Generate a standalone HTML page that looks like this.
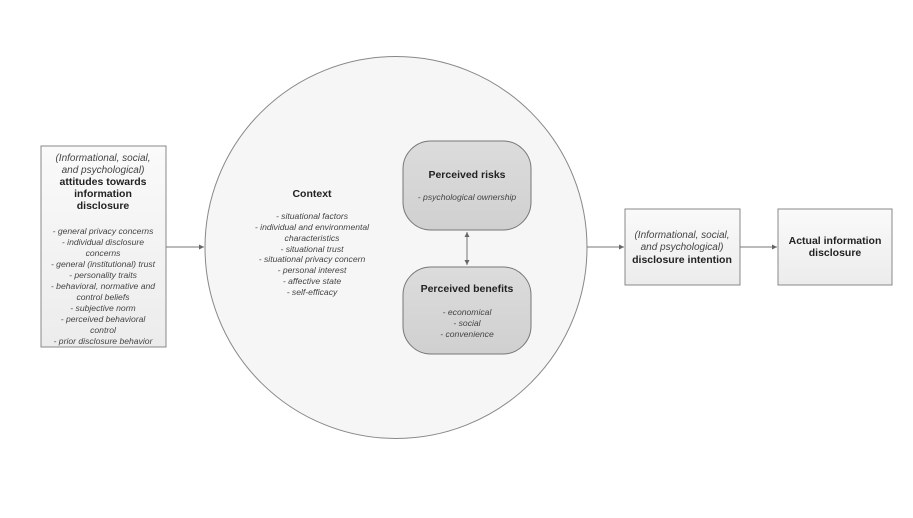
<!DOCTYPE html>
<html><head><meta charset="utf-8"><style>
body{margin:0;background:#fff;}
svg text{font-family:"Liberation Sans",sans-serif;fill:#222;}
.i{font-style:italic;font-size:8.6px;fill:#444;}
.b{font-weight:bold;font-size:10.5px;}
</style></head><body>
<svg width="913" height="513" viewBox="0 0 913 513" xmlns="http://www.w3.org/2000/svg">
<defs>
<linearGradient id="g" x1="0" y1="0" x2="0" y2="1"><stop offset="0" stop-color="#fafafa"/><stop offset="1" stop-color="#ececec"/></linearGradient>
<linearGradient id="g2" x1="0" y1="0" x2="0" y2="1"><stop offset="0" stop-color="#dcdcdc"/><stop offset="1" stop-color="#d0d0d0"/></linearGradient>
<marker id="a" markerWidth="6" markerHeight="6" refX="5" refY="3" orient="auto"><path d="M0,0.5 L5,3 L0,5.5z" fill="#666"/></marker>
<marker id="as" markerWidth="6" markerHeight="6" refX="1" refY="3" orient="auto"><path d="M6,0.5 L1,3 L6,5.5z" fill="#666"/></marker>
</defs>
<circle cx="396" cy="247.5" r="191" fill="#f6f6f6" stroke="#888" stroke-width="1"/>
<rect x="41" y="146" width="125" height="201" fill="url(#g)" stroke="#888"/>
<rect x="403" y="141" width="128" height="89" rx="28" fill="url(#g2)" stroke="#777"/>
<rect x="403" y="267" width="128" height="87" rx="28" fill="url(#g2)" stroke="#777"/>
<rect x="625" y="209" width="115" height="76" fill="url(#g)" stroke="#888"/>
<rect x="778" y="209" width="114" height="76" fill="url(#g)" stroke="#888"/>
<g stroke="#777" stroke-width="1" fill="none">
<line x1="166" y1="247" x2="204" y2="247" marker-end="url(#a)"/>
<line x1="587" y1="247" x2="624" y2="247" marker-end="url(#a)"/>
<line x1="740" y1="247" x2="777" y2="247" marker-end="url(#a)"/>
<line x1="467" y1="232" x2="467" y2="265" marker-end="url(#a)" marker-start="url(#as)"/>
</g>
<g text-anchor="middle">
<text x="103" y="161" class="i" style="font-size:10px">(Informational, social,</text>
<text x="103" y="173" class="i" style="font-size:10px">and psychological)</text>
<text x="103" y="185" class="b">attitudes towards</text>
<text x="103" y="197" class="b">information</text>
<text x="103" y="209" class="b">disclosure</text>
<text x="103" y="234" class="i">- general privacy concerns</text>
<text x="103" y="245" class="i">- individual disclosure</text>
<text x="103" y="256" class="i">concerns</text>
<text x="103" y="267" class="i">- general (institutional) trust</text>
<text x="103" y="278" class="i">- personality traits</text>
<text x="103" y="289" class="i">- behavioral, normative and</text>
<text x="103" y="300" class="i">control beliefs</text>
<text x="103" y="311" class="i">- subjective norm</text>
<text x="103" y="322" class="i">- perceived behavioral</text>
<text x="103" y="333" class="i">control</text>
<text x="103" y="344" class="i">- prior disclosure behavior</text>

<text x="312" y="197" class="b">Context</text>
<text x="312" y="219" class="i">- situational factors</text>
<text x="312" y="230" class="i">- individual and environmental</text>
<text x="312" y="241" class="i">characteristics</text>
<text x="312" y="252" class="i">- situational trust</text>
<text x="312" y="262" class="i">- situational privacy concern</text>
<text x="312" y="273" class="i">- personal interest</text>
<text x="312" y="284" class="i">- affective state</text>
<text x="312" y="295" class="i">- self-efficacy</text>

<text x="467" y="178" class="b">Perceived risks</text>
<text x="467" y="200" class="i">- psychological ownership</text>
<text x="467" y="292" class="b">Perceived benefits</text>
<text x="467" y="315" class="i">- economical</text>
<text x="467" y="326" class="i">- social</text>
<text x="467" y="337" class="i">- convenience</text>

<text x="682" y="238" class="i" style="font-size:10px">(Informational, social,</text>
<text x="682" y="250" class="i" style="font-size:10px">and psychological)</text>
<text x="682" y="263" class="b">disclosure intention</text>
<text x="835" y="244" class="b">Actual information</text>
<text x="835" y="256" class="b">disclosure</text>
</g>
</svg>
</body></html>
